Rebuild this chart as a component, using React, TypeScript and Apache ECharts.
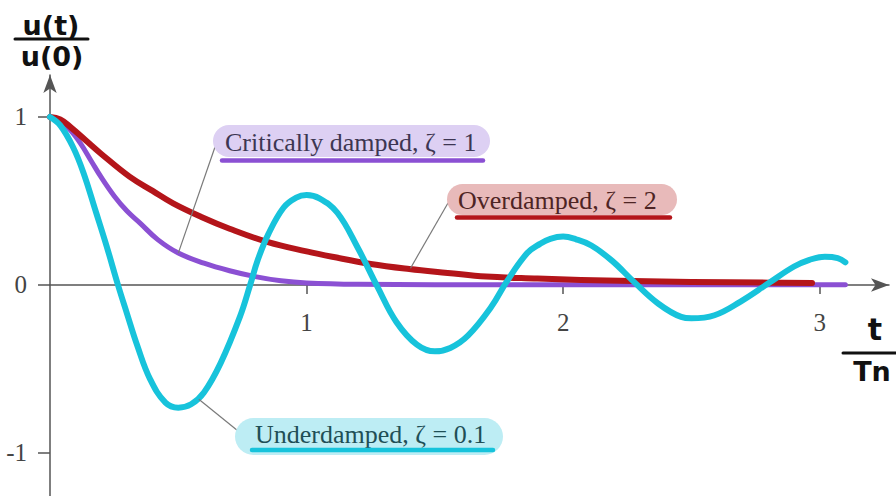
import React, { useEffect, useRef } from "react";
import * as echarts from "echarts";

// Normalised free-vibration response u(t)/u(0) against t/Tn
const underdamped: [number, number][] = [
  [0, 1.0], [0.04, 0.95], [0.09, 0.82], [0.13, 0.67], [0.18, 0.43], [0.22, 0.235],
  [0.265, 0.0], [0.3, -0.17], [0.34, -0.36], [0.39, -0.56], [0.45, -0.7], [0.5, -0.73], [0.55, -0.71],
  [0.6, -0.64], [0.665, -0.465], [0.74, -0.19], [0.78, 0.0], [0.81, 0.15], [0.85, 0.3],
  [0.91, 0.46], [0.96, 0.52], [1.0, 0.535], [1.05, 0.515], [1.12, 0.43], [1.2, 0.22],
  [1.276, -0.01], [1.35, -0.22], [1.43, -0.355], [1.5, -0.395], [1.56, -0.375], [1.63, -0.3],
  [1.72, -0.13], [1.78, 0.02], [1.86, 0.19], [1.91, 0.245], [1.95, 0.275], [2.0, 0.288],
  [2.05, 0.272], [2.11, 0.235], [2.19, 0.145], [2.275, 0.02], [2.37, -0.11], [2.46, -0.19],
  [2.5, -0.198], [2.59, -0.18], [2.69, -0.1], [2.8, 0.01], [2.9, 0.11], [2.96, 0.15],
  [3.02, 0.168], [3.07, 0.16], [3.1, 0.135],
];

const criticallyDamped: [number, number][] = [
  [0, 1.0], [0.04, 0.975], [0.08, 0.92], [0.12, 0.84], [0.16, 0.74], [0.2, 0.64],
  [0.25, 0.53], [0.3, 0.44], [0.35, 0.37], [0.42, 0.27], [0.5, 0.19], [0.6, 0.13],
  [0.7, 0.085], [0.8, 0.05], [0.9, 0.025], [1.0, 0.012], [1.2, 0.004], [1.5, 0.002],
  [2.0, 0.001], [2.5, 0.001], [3.1, 0.001],
];

const overdamped: [number, number][] = [
  [0, 1.0], [0.04, 0.985], [0.08, 0.94], [0.14, 0.86], [0.2, 0.78], [0.31, 0.645],
  [0.4, 0.56], [0.48, 0.486], [0.59, 0.405], [0.7, 0.335], [0.85, 0.255], [1.0, 0.2],
  [1.1, 0.168], [1.25, 0.125], [1.4, 0.095], [1.55, 0.072], [1.7, 0.05], [1.9, 0.038],
  [2.07, 0.03], [2.27, 0.024], [2.5, 0.018], [2.8, 0.014], [2.97, 0.012],
];

const xTickValues = [1, 2, 3];
const yTickValues = [-1, 0, 1];

// Points on each curve where the callout leader lines touch
const criticalAnchor = [0.5, 0.19];
const overAnchor = [1.405, 0.1];
const underAnchor = [0.58, -0.68];

const CYAN = "#17c3db";
const PURPLE = "#8b50d3";
const RED = "#b4151a";
const AXIS = "#555555";
const SERIF = "'Liberation Serif', 'Times New Roman', serif";
const HAND = "'DejaVu Sans', sans-serif";

const GRID_TOP = 75;
const GRID_H = 421;
const Y_MIN = -1.256;
const Y_MAX = 1.25;

export default function App() {
  const ref = useRef<HTMLDivElement>(null);

  useEffect(() => {
    const chart = echarts.init(ref.current!, null, { renderer: "svg" });

    const lineSeries = (name: string, data: [number, number][], color: string, width: number) => ({
      name,
      type: "line",
      data,
      smooth: 0.4,
      showSymbol: false,
      clip: false,
      lineStyle: { color, width, cap: "round", join: "round" },
      emphasis: { disabled: true },
    });

    // the time axis sits on u = 0, lifted from the grid's bottom edge
    const zeroLift = -(GRID_H * (-Y_MIN)) / (Y_MAX - Y_MIN);

    chart.setOption({
      animation: false,
      grid: {
        left: 50, right: 7, top: GRID_TOP, height: GRID_H,
        containLabel: false, outerBoundsMode: "none",
      },
      xAxis: {
        type: "value",
        min: 0,
        max: 3.27,
        position: "bottom",
        offset: zeroLift,
        axisLine: {
          show: true,
          onZero: false,
          symbol: ["none", "arrow"],
          symbolSize: [10, 18],
          lineStyle: { color: AXIS, width: 1.5 },
        },
        axisTick: { show: true, customValues: xTickValues, length: 9, lineStyle: { color: AXIS, width: 1.5 } },
        axisLabel: {
          customValues: xTickValues,
          fontSize: 25,
          fontFamily: SERIF,
          color: "#444",
          margin: 25,
        },
        splitLine: { show: false },
      },
      yAxis: {
        type: "value",
        min: Y_MIN,
        max: Y_MAX,
        position: "left",
        axisLine: {
          show: true,
          onZero: false,
          symbol: ["none", "arrow"],
          symbolSize: [10, 18],
          lineStyle: { color: AXIS, width: 1.5 },
        },
        axisTick: { show: true, customValues: yTickValues, length: 12, lineStyle: { color: AXIS, width: 1.5 } },
        axisLabel: {
          customValues: yTickValues,
          fontSize: 25,
          fontFamily: SERIF,
          color: "#444",
          margin: 23,
        },
        splitLine: { show: false },
      },
      series: [
        lineSeries("Critically damped", criticallyDamped, PURPLE, 5),
        lineSeries("Overdamped", overdamped, RED, 6),
        lineSeries("Underdamped", underdamped, CYAN, 6),
      ],
    });

    const px = (p: number[]) => chart.convertToPixel({ gridIndex: 0 }, p) as number[];
    const cA = px(criticalAnchor);
    const oA = px(overAnchor);
    const uA = px(underAnchor);

    const leader = (x1: number, y1: number, p: number[]) => ({
      type: "line",
      z: 50,
      shape: { x1, y1, x2: p[0], y2: p[1] },
      style: { stroke: "#7a7a7a", lineWidth: 1.2 },
    });

    const callout = (
      x: number, y: number, w: number, h: number, fill: string,
      text: string, textColor: string, tx: number, ty: number,
      ux1: number, ux2: number, uy: number, uColor: string,
    ) => [
      { type: "rect", z: 60, shape: { x, y, width: w, height: h, r: h / 2 }, style: { fill } },
      {
        type: "text", z: 61, x: tx, y: ty,
        style: { text, fontSize: 26, fontFamily: SERIF, fill: textColor, align: "left", verticalAlign: "middle" },
      },
      {
        type: "line", z: 62,
        shape: { x1: ux1, y1: uy, x2: ux2, y2: uy },
        style: { stroke: uColor, lineWidth: 4.5, lineCap: "round" },
      },
    ];

    chart.setOption({
      graphic: [
        leader(215, 147, cA),
        leader(448, 203, oA),
        leader(243, 435, uA),
        ...callout(213, 125, 277, 32, "#ddd0f3", "Critically damped, \u03b6 = 1", "#3d3652", 225, 142, 222, 483, 160.5, PURPLE),
        ...callout(447, 184, 230, 31, "#e8baba", "Overdamped, \u03b6 = 2", "#4e2424", 458, 200, 457, 670, 217.5, RED),
        ...callout(235, 418, 268, 37, "#bdedf4", "Underdamped, \u03b6 = 0.1", "#1f4f56", 255, 434, 252, 493, 450, CYAN),
        // vertical axis quantity u(t)/u(0)
        {
          type: "text", z: 70, x: 51, y: 25,
          style: { text: "u(t)", fontSize: 27, fontWeight: "bold", fontFamily: HAND, fill: "#111", align: "center", verticalAlign: "middle" },
        },
        { type: "line", z: 70, shape: { x1: 15, y1: 39, x2: 88, y2: 39 }, style: { stroke: "#111", lineWidth: 3, lineCap: "round" } },
        {
          type: "text", z: 70, x: 52, y: 56,
          style: { text: "u(0)", fontSize: 27, fontWeight: "bold", fontFamily: HAND, fill: "#111", align: "center", verticalAlign: "middle" },
        },
        // horizontal axis quantity t/Tn
        {
          type: "text", z: 70, x: 875, y: 329,
          style: { text: "t", fontSize: 30, fontWeight: "bold", fontFamily: HAND, fill: "#111", align: "center", verticalAlign: "middle" },
        },
        { type: "line", z: 70, shape: { x1: 843, y1: 353, x2: 896, y2: 353 }, style: { stroke: "#111", lineWidth: 3, lineCap: "round" } },
        {
          type: "text", z: 70, x: 872, y: 371,
          style: { text: "Tn", fontSize: 27, fontWeight: "bold", fontFamily: HAND, fill: "#111", align: "center", verticalAlign: "middle" },
        },
      ],
    });

    return () => chart.dispose();
  }, []);

  return (
    <div
      ref={ref}
      style={{ position: "fixed", left: 0, top: 0, width: 896, height: 496, background: "#fff" }}
    />
  );
}
